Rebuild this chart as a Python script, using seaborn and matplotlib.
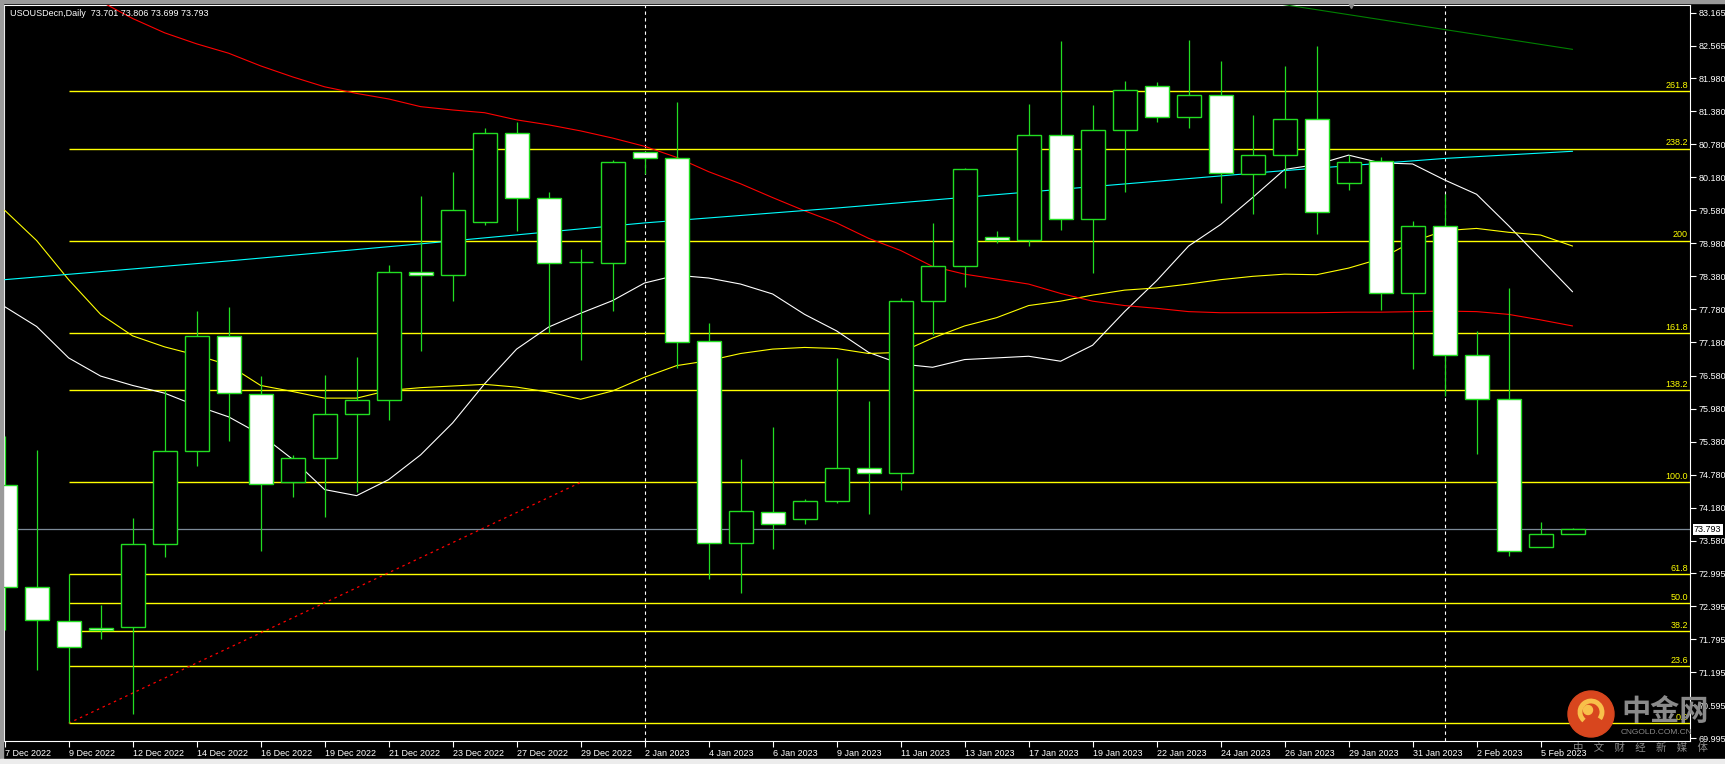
'''
Recria o grafico diario USOUSDecn (estilo MetaTrader) com candles,
medias moveis e niveis de Fibonacci, usando seaborn + matplotlib.
'''

import matplotlib
matplotlib.use("Agg")
import matplotlib.pyplot as plt
from matplotlib.patches import Rectangle, Ellipse, Arc
from matplotlib.transforms import blended_transform_factory
import numpy as np
import pandas as pd
import seaborn as sns

# Rotulos do eixo x (uma barra sim, outra nao)
date_labels = ["7 Dec 2022", "9 Dec 2022", "12 Dec 2022", "14 Dec 2022", "16 Dec 2022",
               "19 Dec 2022", "21 Dec 2022", "23 Dec 2022", "27 Dec 2022", "29 Dec 2022",
               "2 Jan 2023", "4 Jan 2023", "6 Jan 2023", "9 Jan 2023", "11 Jan 2023",
               "13 Jan 2023", "17 Jan 2023", "19 Jan 2023", "22 Jan 2023", "24 Jan 2023",
               "26 Jan 2023", "29 Jan 2023", "31 Jan 2023", "2 Feb 2023", "5 Feb 2023"]

# Candles (OHLC)
opens = [74.60, 72.74, 72.12, 72.00, 72.01, 73.52, 75.21, 77.29, 76.24, 74.65,
         75.09, 75.88, 76.14, 78.46, 78.41, 79.36, 80.98, 79.80, 78.64, 78.63,
         80.63, 80.52, 77.20, 73.54, 74.10, 73.98, 74.30, 74.91, 74.81, 77.93,
         78.56, 79.10, 79.04, 80.94, 79.43, 81.04, 81.84, 81.27, 81.67, 80.24,
         80.59, 81.24, 80.08, 80.47, 78.07, 79.29, 76.96, 76.15, 73.47, 73.701]
highs = [75.49, 75.23, 72.97, 72.42, 74.00, 76.31, 77.75, 77.83, 76.57, 75.14,
         76.59, 76.91, 78.59, 79.84, 80.28, 81.07, 81.18, 79.91, 78.88, 80.49,
         80.64, 81.54, 77.54, 75.06, 75.65, 74.34, 76.90, 76.12, 77.98, 79.35,
         80.34, 79.21, 81.51, 82.65, 81.49, 81.93, 81.91, 82.67, 82.29, 81.31,
         82.20, 82.56, 80.59, 80.54, 79.38, 79.87, 77.39, 78.17, 73.93, 73.806]
lows = [71.97, 71.23, 70.27, 71.80, 70.43, 73.29, 74.94, 75.40, 73.40, 74.37,
        74.02, 74.46, 75.78, 77.02, 77.94, 79.32, 79.20, 77.35, 76.86, 77.75,
        80.23, 76.72, 72.89, 72.63, 73.43, 73.88, 74.26, 74.07, 74.50, 77.31,
        78.19, 78.98, 78.94, 79.23, 78.45, 79.92, 81.19, 81.08, 79.72, 79.52,
        79.99, 79.14, 79.94, 77.77, 76.69, 76.20, 75.15, 73.31, 73.47, 73.699]
closes = [72.74, 72.14, 71.65, 71.97, 73.52, 75.21, 77.29, 76.26, 74.61, 75.09,
          75.88, 76.14, 78.46, 78.41, 79.58, 80.98, 79.80, 78.63, 78.64, 80.45,
          80.52, 77.18, 73.54, 74.12, 73.89, 74.30, 74.91, 74.81, 77.93, 78.56,
          80.32, 79.04, 80.94, 79.43, 81.04, 81.76, 81.28, 81.67, 80.25, 80.59,
          81.24, 79.54, 80.45, 78.07, 79.29, 76.96, 76.15, 73.39, 73.70, 73.793]

# Medias moveis (valores lidos barra a barra)
ma_white = [77.83, 77.47, 76.90, 76.57, 76.40, 76.26, 76.03, 75.83, 75.51, 75.06,
            74.51, 74.40, 74.69, 75.14, 75.72, 76.43, 77.06, 77.46, 77.71, 77.94,
            78.26, 78.40, 78.35, 78.24, 78.06, 77.69, 77.39, 77.00, 76.79, 76.73,
            76.87, 76.90, 76.93, 76.84, 77.13, 77.74, 78.30, 78.93, 79.32, 79.81,
            80.32, 80.41, 80.58, 80.44, 80.42, 80.13, 79.87, 79.30, 78.70, 78.10]
ma_yellow = [79.58, 79.03, 78.32, 77.69, 77.30, 77.10, 76.95, 76.77, 76.40, 76.29,
             76.17, 76.17, 76.31, 76.36, 76.39, 76.42, 76.37, 76.28, 76.15, 76.30,
             76.55, 76.76, 76.85, 76.98, 77.06, 77.09, 77.07, 76.98, 77.00, 77.26,
             77.48, 77.63, 77.85, 77.93, 78.04, 78.13, 78.17, 78.24, 78.32, 78.38,
             78.42, 78.41, 78.53, 78.70, 79.01, 79.21, 79.25, 79.18, 79.13, 78.93]
ma_red_bars = list(range(3, 50))
ma_red = [83.37, 83.06, 82.80, 82.60, 82.43, 82.20, 82.00, 81.82, 81.70, 81.60,
          81.46, 81.40, 81.35, 81.22, 81.13, 81.02, 80.89, 80.74, 80.54, 80.28,
          80.06, 79.81, 79.57, 79.35, 79.07, 78.85, 78.56, 78.42, 78.33, 78.24,
          78.07, 77.93, 77.85, 77.80, 77.74, 77.72, 77.72, 77.72, 77.72, 77.73,
          77.73, 77.74, 77.75, 77.74, 77.69, 77.59, 77.48]
ma_cyan_bars = [0, 7, 13, 20, 26, 33, 40, 45, 49]
ma_cyan = [78.32, 78.66, 78.97, 79.35, 79.62, 79.96, 80.30, 80.52, 80.65]
ma_green_bars = [39, 42, 45, 47, 49]
ma_green = [83.40, 83.13, 82.86, 82.68, 82.50]

# Niveis de Fibonacci
fib_labels = ["0.0", "23.6", "38.2", "50.0", "61.8", "100.0",
              "138.2", "161.8", "200", "238.2", "261.8"]
fib_prices = [70.27, 71.30, 71.94, 72.45, 72.97, 74.64,
              76.31, 77.35, 79.03, 80.70, 81.74]
fib_start_bar = 2
fib_anchor_bars = [2, 18]
fib_anchor_prices = [70.27, 74.64]

# Eixo de precos e outros elementos
price_ticks = [83.165, 82.565, 81.980, 81.380, 80.780, 80.180, 79.580, 78.980,
               78.380, 77.780, 77.180, 76.580, 75.980, 75.380, 74.780, 74.180,
               73.580, 72.995, 72.395, 71.795, 71.195, 70.595, 69.995]
last_price = 73.793
month_breaks = [20, 45]
shift_marker_bar = 42.07
title_text = "USOUSDecn,Daily  73.701 73.806 73.699 73.793"

W, H = 1725, 764
GREEN = '#22dd22'
X_LIM = (-0.02, 52.67)
Y_LIM = (69.947, 83.305)


def draw_candles(ax):
    """Desenha pavios e corpos dos candles"""
    df = pd.DataFrame({'bar': np.arange(len(opens)), 'open': opens,
                       'high': highs, 'low': lows, 'close': closes})
    bear = df['close'] < df['open']
    ax.vlines(df['bar'], df['low'], df['high'], color=GREEN, lw=0.9, zorder=6)
    ax.bar(df['bar'], (df['close'] - df['open']).abs(),
           bottom=df[['open', 'close']].min(axis=1), width=0.75,
           color=np.where(bear, 'white', 'black'), edgecolor=GREEN,
           lw=1.0, zorder=7)


def draw_averages(ax):
    """Desenha as medias moveis"""
    bars = np.arange(len(opens))
    sns.lineplot(x=bars, y=ma_white, color='white', lw=0.8, ax=ax, zorder=4)
    sns.lineplot(x=bars, y=ma_yellow, color='#ffff00', lw=0.8, ax=ax, zorder=4)
    sns.lineplot(x=ma_red_bars, y=ma_red, color='#ff0000', lw=0.8, ax=ax, zorder=4)
    sns.lineplot(x=ma_cyan_bars, y=ma_cyan, color='#00ffff', lw=0.8, ax=ax, zorder=4)
    sns.lineplot(x=ma_green_bars, y=ma_green, color='#008000', lw=0.8, ax=ax, zorder=4)


def draw_fibo(ax):
    """Desenha os niveis de Fibonacci e a linha pontilhada"""
    trans = blended_transform_factory(ax.transAxes, ax.transData)
    ax.hlines(fib_prices, fib_start_bar, X_LIM[1], color='#ffff00', lw=1.0, zorder=3)
    for lab, p in zip(fib_labels, fib_prices):
        ax.text(1 - 2 / 1686, p + 0.02, lab, transform=trans, ha='right',
                va='bottom', color='#ffff00', fontsize=6.5, zorder=8)
    ax.plot(fib_anchor_bars, fib_anchor_prices, color='#ff0000', lw=0.9,
            ls=(0, (2, 3)), zorder=3)


def draw_watermark(fig):
    """Logo do site no canto inferior direito"""
    fx = lambda px: px / W
    fy = lambda py: 1 - py / H
    fig.add_artist(Ellipse((fx(1591), fy(714)), 46 / W, 46 / H,
                           transform=fig.transFigure, color='#d8461e', zorder=20))
    fig.add_artist(Arc((fx(1591), fy(712)), 22 / W, 22 / H, theta1=-60, theta2=250,
                       transform=fig.transFigure, color='#f8c04a', lw=3.5, zorder=21))
    fig.add_artist(Ellipse((fx(1588), fy(710)), 9 / W, 9 / H,
                           transform=fig.transFigure, color='#f8c04a', zorder=21))
    fig.text(fx(1665), fy(711), '中金网', family=['Noto Sans CJK SC', 'DejaVu Sans'],
             fontsize=21, weight='bold', color='#8a8a8a', ha='center', va='center', zorder=22)
    fig.text(fx(1656), fy(733), 'CNGOLD.COM.CN', fontsize=6, color='#8a8a8a',
             ha='center', va='center', zorder=22)
    fig.text(fx(1640), fy(748), '中\u3000文\u3000财\u3000经\u3000新\u3000媒\u3000体',
             family=['Noto Sans CJK SC', 'DejaVu Sans'], fontsize=7.5,
             color='#8a8a8a', ha='center', va='center', zorder=22)


def main():
    sns.set_theme(style='dark', rc={'axes.facecolor': 'black',
                                    'figure.facecolor': 'black'})
    plt.rcParams['font.family'] = ['Liberation Sans', 'DejaVu Sans']

    fig = plt.figure(figsize=(W / 100, H / 100), dpi=100, facecolor='black')
    ax = fig.add_axes([4 / W, 1 - 741 / H, 1686 / W, 736 / H])
    ax.set_facecolor('black')
    ax.grid(False)

    # Linha de preco atual e separadores de mes
    ax.axhline(last_price, color='#7c8a98', lw=0.9, zorder=2)
    for b in month_breaks:
        ax.axvline(b, color='white', lw=0.8, ls=(0, (3, 3)), zorder=2)

    draw_fibo(ax)
    draw_averages(ax)
    draw_candles(ax)

    ax.set_xlim(*X_LIM)
    ax.set_ylim(*Y_LIM)

    # Eixos
    ax.set_xticks(np.arange(0, len(opens), 2))
    ax.set_xticklabels(date_labels, ha='left')
    ax.set_yticks(price_ticks)
    ax.set_yticklabels([f'{p:.3f}' for p in price_ticks])
    ax.yaxis.tick_right()
    ax.tick_params(axis='both', colors='white', labelsize=6.5, length=4,
                   width=0.8, direction='out', bottom=True, right=True,
                   left=False, top=False, labelright=True, labelleft=False)
    ax.tick_params(axis='y', pad=2)
    ax.tick_params(axis='x', pad=2)
    ax.set_xlabel('')
    ax.set_ylabel('')
    for s in ax.spines.values():
        s.set_visible(True)
        s.set_color('white')
        s.set_linewidth(0.8)

    # Caixa do preco atual no eixo direito
    trans = blended_transform_factory(ax.transAxes, ax.transData)
    ax.text(1 + 4 / 1686, last_price, f'{last_price:.3f}', transform=trans,
            ha='left', va='center', fontsize=6.5, color='black', clip_on=False,
            bbox=dict(boxstyle='square,pad=0.12', fc='white', ec='none'), zorder=10)

    # Marcador de deslocamento do grafico
    ax.plot(shift_marker_bar, Y_LIM[1], marker='v', ms=5, color='#8a8a8a',
            clip_on=False, zorder=10)

    # Titulo
    fig.text(10 / W, 1 - 13 / H, title_text, color='white', fontsize=6.5, va='center')

    # Moldura cinza da janela
    fig.add_artist(Rectangle((0, 1 - 3 / H), 1, 3 / H, transform=fig.transFigure,
                             color='#9a9a9a', zorder=30))
    fig.add_artist(Rectangle((0, 0), 3 / W, 1, transform=fig.transFigure,
                             color='#9a9a9a', zorder=30))
    fig.add_artist(Rectangle((0, 0), 1, 5 / H, transform=fig.transFigure,
                             color='#ececec', zorder=30))

    draw_watermark(fig)
    fig.savefig('out.png', dpi=100, facecolor='black')


if __name__ == "__main__":
    main()
